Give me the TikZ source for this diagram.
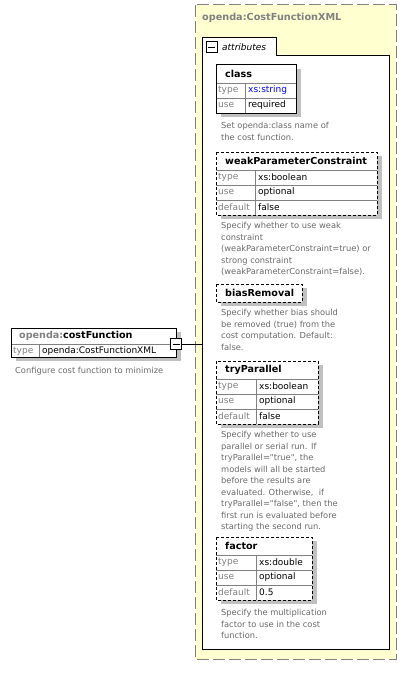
\documentclass[tikz,border=0pt]{standalone}
\usepackage{fontspec}
\setmainfont{DejaVu Sans}
\newfontfamily\quotefont{DejaVu Sans}
\definecolor{grpyellow}{RGB}{255,255,208}
\definecolor{grpborder}{RGB}{128,128,128}
\definecolor{descgray}{RGB}{105,105,105}
\definecolor{lblgray}{RGB}{128,128,128}
\definecolor{shadowgray}{RGB}{192,192,192}
\definecolor{xsblue}{RGB}{0,0,255}

\tikzset{
  desc/.style={anchor=north west, align=left, inner sep=0pt, text=descgray,
    font=\fontsize{8.3}{11.5}\selectfont},
  attrhead/.style={anchor=west, inner sep=0pt, font=\fontsize{9.6}{11}\selectfont\bfseries},
  rowlbl/.style={anchor=west, inner sep=0pt, text=lblgray, font=\fontsize{9}{11}\selectfont},
  rowval/.style={anchor=west, inner sep=0pt, font=\fontsize{9}{11}\selectfont},
  rowline/.style={draw=gray, line width=1pt},
  reqborder/.style={draw=black, line width=1pt},
  optborder/.style={draw=black, line width=1pt, dash pattern=on 3pt off 2pt},
  minusbox/.style={draw=black, fill=white, line width=1pt, minimum size=11pt, inner sep=0pt,
    path picture={\draw[line width=1pt] ([xshift=2pt]path picture bounding box.west) -- ([xshift=-2pt]path picture bounding box.east);}},
}

\newcommand{\qq}{{\quotefont\symbol{34}}}

% #1 name, #2 x, #3 y, #4 width, #5 column offset, #6 rows, #7 border, #8 title, #9 rows
\newcommand{\attrtable}[9]{%
  \pgfmathsetmacro\tabh{18+15*#6}
  \fill[shadowgray] (#2+5,#3+4) rectangle ++(#4,\tabh);
  \fill[white] (#2,#3) rectangle ++(#4,\tabh);
  \node[attrhead] (#1) at (#2+9,#3+9) {#8};
  \foreach \lab/\val [count=\i] in {#9} {
    \draw[rowline] (#2,#3+3+15*\i) -- ++(#4,0);
    \node[rowlbl] (#1-\lab) at (#2+2,#3+10.5+15*\i) {\lab};
    \node[rowval] (#1-\lab-val) at (#2+#5+3,#3+10.5+15*\i) {\val};
  }
  \ifnum#6>0 \draw[rowline] (#2+#5,#3+18) -- ++(0,15*#6); \fi
  \draw[#7] (#2,#3) rectangle ++(#4,\tabh);
}

\begin{document}
\begin{tikzpicture}[x=1pt,y=-1pt]
\useasboundingbox (0,0) rectangle (414,677);

% complex type group
\draw[fill=grpyellow, draw=grpborder, line width=1pt, dash pattern=on 12pt off 4pt]
  (195,5) rectangle (396,659);
\node[anchor=west, inner sep=0pt, text=lblgray, font=\fontsize{9.7}{11}\selectfont\bfseries]
  (cfxml) at (202,18) {openda:CostFunctionXML};

% attributes tab
\draw[fill=white, line width=1pt] (202,649) -- (202,38) -- (276,38) -- (276,56)
  -- (389,56) -- (389,649) -- cycle;
\node[minusbox] (attrminus) at (211.5,47.5) {};
\node[anchor=west, inner sep=0pt, font=\fontsize{9}{11}\selectfont\itshape]
  (attrtab) at (222,47) {attributes};

% attributes
\attrtable{class}{216}{65}{80}{29}{2}{reqborder}{class}
  {type/{\textcolor{xsblue}{xs:string}}, use/required}
\node[desc] (classdesc) at (221,122) {Set openda:class name of\\the cost function.};

\attrtable{wpc}{216}{152}{161}{39}{3}{optborder}{weakParameterConstraint}
  {type/xs:boolean, use/optional, default/false}
\node[desc] (wpcdesc) at (221,222) {Specify whether to use weak\\constraint\\(weakParameterConstraint=true) or\\strong constraint\\(weakParameterConstraint=false).};

\attrtable{bias}{216}{284}{86}{0}{0}{optborder}{biasRemoval}{}
\node[desc] (biasdesc) at (221,309) {Specify whether bias should\\be removed (true) from the\\cost computation. Default:\\false.};

\attrtable{par}{216}{361}{102}{40}{3}{optborder}{tryParallel}
  {type/xs:boolean, use/optional, default/false}
\node[desc] (pardesc) at (221,431) {Specify whether to use\\parallel or serial run. If\\tryParallel=\qq true\qq, the\\models will all be started\\before the results are\\evaluated. Otherwise,\ \ if\\tryParallel=\qq false\qq, then the\\first run is evaluated before\\starting the second run.};

\attrtable{factor}{216}{537}{96}{40}{3}{optborder}{factor}
  {type/xs:double, use/optional, default/0.5}
\node[desc] (factordesc) at (221,609) {Specify the multiplication\\factor to use in the cost\\function.};

% element
\fill[shadowgray] (16,332) rectangle (181,361);
\fill[white] (11,328) rectangle (176,357);
\draw[rowline] (11,344) -- (176,344);
\draw[rowline] (39,344) -- (39,357);
\draw[reqborder] (11,328) rectangle (176,357);
\node[anchor=west, inner sep=0pt, font=\fontsize{9.6}{11}\selectfont\bfseries]
  (cfelem) at (19,336) {\textcolor{lblgray}{openda:}costFunction};
\node[rowlbl] (cftype) at (13,351) {type};
\node[rowval] (cftypeval) at (42,351) {openda:CostFunctionXML};
\node[desc] (cfdesc) at (15,367) {Configure cost function to minimize};

\node[minusbox] (cfminus) at (176,344) {};
\coordinate (attrin) at (202,344);
\draw[line width=1pt] (cfminus.east) -- (attrin);
\end{tikzpicture}
\end{document}
